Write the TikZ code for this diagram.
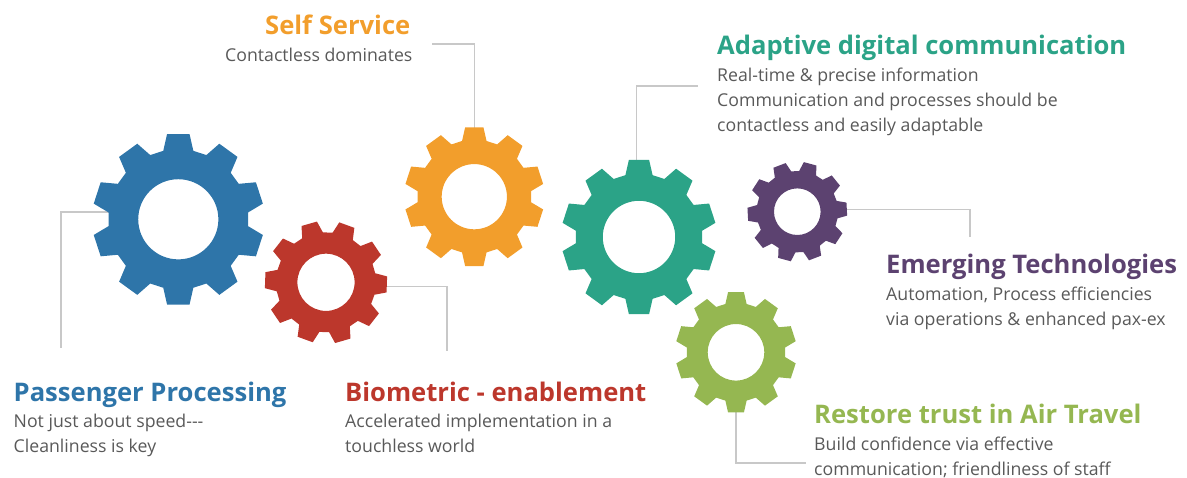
\documentclass[tikz,border=0pt]{standalone}
\usepackage{fontspec}
\usetikzlibrary{backgrounds}
\setmainfont{Open Sans}
\definecolor{cblue}{HTML}{2E75A9}
\definecolor{cred}{HTML}{BC372C}
\definecolor{corange}{HTML}{F29E2C}
\definecolor{cteal}{HTML}{2BA387}
\definecolor{cpurple}{HTML}{5C4270}
\definecolor{cgreen}{HTML}{95B751}
\definecolor{cbody}{HTML}{595959}
\definecolor{cline}{HTML}{C8C8C8}
\tikzset{
  x=1pt,y=-1pt,
  link/.style={draw=cline,line width=1.1pt},
  hub/.style={circle,inner sep=0pt,outer sep=0pt,draw=none},
  headtext/.style={anchor=base west,inner sep=0pt,font=\fontsize{25.6}{30}\selectfont\bfseries},
  bodytext/.style={anchor=north west,inner sep=0pt,align=left,text=cbody,
    font=\fontsize{17.7}{25}\selectfont,execute at begin node=\rule{0pt}{14pt}},
}
% name, cx, cy, R, phase, colour
\newcommand{\cog}[6]{%
  \pgfmathsetmacro{\rr}{#4*0.815}%
  \pgfmathsetmacro{\hh}{#4*0.466}%
  \fill[#6,even odd rule]
    ({#2+\rr*cos(#5-12.4)},{#3-\rr*sin(#5-12.4)})
    \foreach \k in {0,...,9}{
      \pgfextra{\pgfmathsetmacro{\aa}{#5+36*\k}}
      -- ({#2+\rr*cos(\aa-12.4)},{#3-\rr*sin(\aa-12.4)})
      -- ({#2+#4*cos(\aa-7.5)},{#3-#4*sin(\aa-7.5)})
      -- ({#2+#4*cos(\aa+7.5)},{#3-#4*sin(\aa+7.5)})
      -- ({#2+\rr*cos(\aa+12.4)},{#3-\rr*sin(\aa+12.4)})
    } -- cycle
    ({#2+\hh},{#3}) arc[start angle=0,end angle=360,radius=\hh];
  \node[hub,minimum size={2*\rr*1pt}] (#1) at (#2,#3) {};
}
\begin{document}
\begin{tikzpicture}
\useasboundingbox (0,0) rectangle (1187,478);
\cog{gblue}{178.3}{219.3}{86}{90}{cblue}
\cog{gred}{326}{282.3}{61.4}{-2}{cred}
\cog{gorange}{474.3}{196.7}{70}{90}{corange}
\cog{gteal}{639}{237}{77.7}{90}{cteal}
\cog{gpurple}{797.3}{211.7}{50}{3}{cpurple}
\cog{ggreen}{736}{352.3}{60.7}{90}{cgreen}

\coordinate (eblue) at (61,348);
\coordinate (ered) at (447,351);
\coordinate (eorange) at (432,44);
\coordinate (eteal) at (698,86);
\coordinate (epurple) at (970,237);
\coordinate (egreen) at (806,463);
\begin{scope}[on background layer]
\draw[link] (gblue.174) -| (eblue);
\draw[link] (gred.-5) -| (ered);
\draw[link] (gorange.north) |- (eorange);
\draw[link] (gteal.92) |- (eteal);
\draw[link] (gpurple.3) -| (epurple);
\draw[link] (ggreen.south) |- (egreen);
\end{scope}

\node[headtext,text=cblue] (tblue) at (13.5,402) {Passenger Processing};
\node[bodytext] (bblue) at (13.5,414.3) {Not just about speed{-}{-}{-}\\Cleanliness is key};
\node[headtext,text=cred] (tred) at (345,402) {Biometric - enablement};
\node[bodytext] (bred) at (345,414.3) {Accelerated implementation in a\\touchless world};
\node[headtext,text=corange] (torange) at (265,35) {Self Service};
\node[bodytext] (borange) at (225,47) {Contactless dominates};
\node[headtext,text=cteal] (tteal) at (717,55) {Adaptive digital communication};
\node[bodytext] (bteal) at (717,68) {Real-time \& precise information\\Communication and processes should be\\contactless and easily adaptable};
\node[headtext,text=cpurple] (tpurple) at (886,274) {Emerging Technologies};
\node[bodytext] (bpurple) at (886,286.3) {Automation, Process efficiencies\\via operations \& enhanced pax-ex};
\node[headtext,text=cgreen] (tgreen) at (814,424) {Restore trust in Air Travel};
\node[bodytext] (bgreen) at (814,436.3) {Build confidence via effective\\communication; friendliness of staff};
\end{tikzpicture}
\end{document}
